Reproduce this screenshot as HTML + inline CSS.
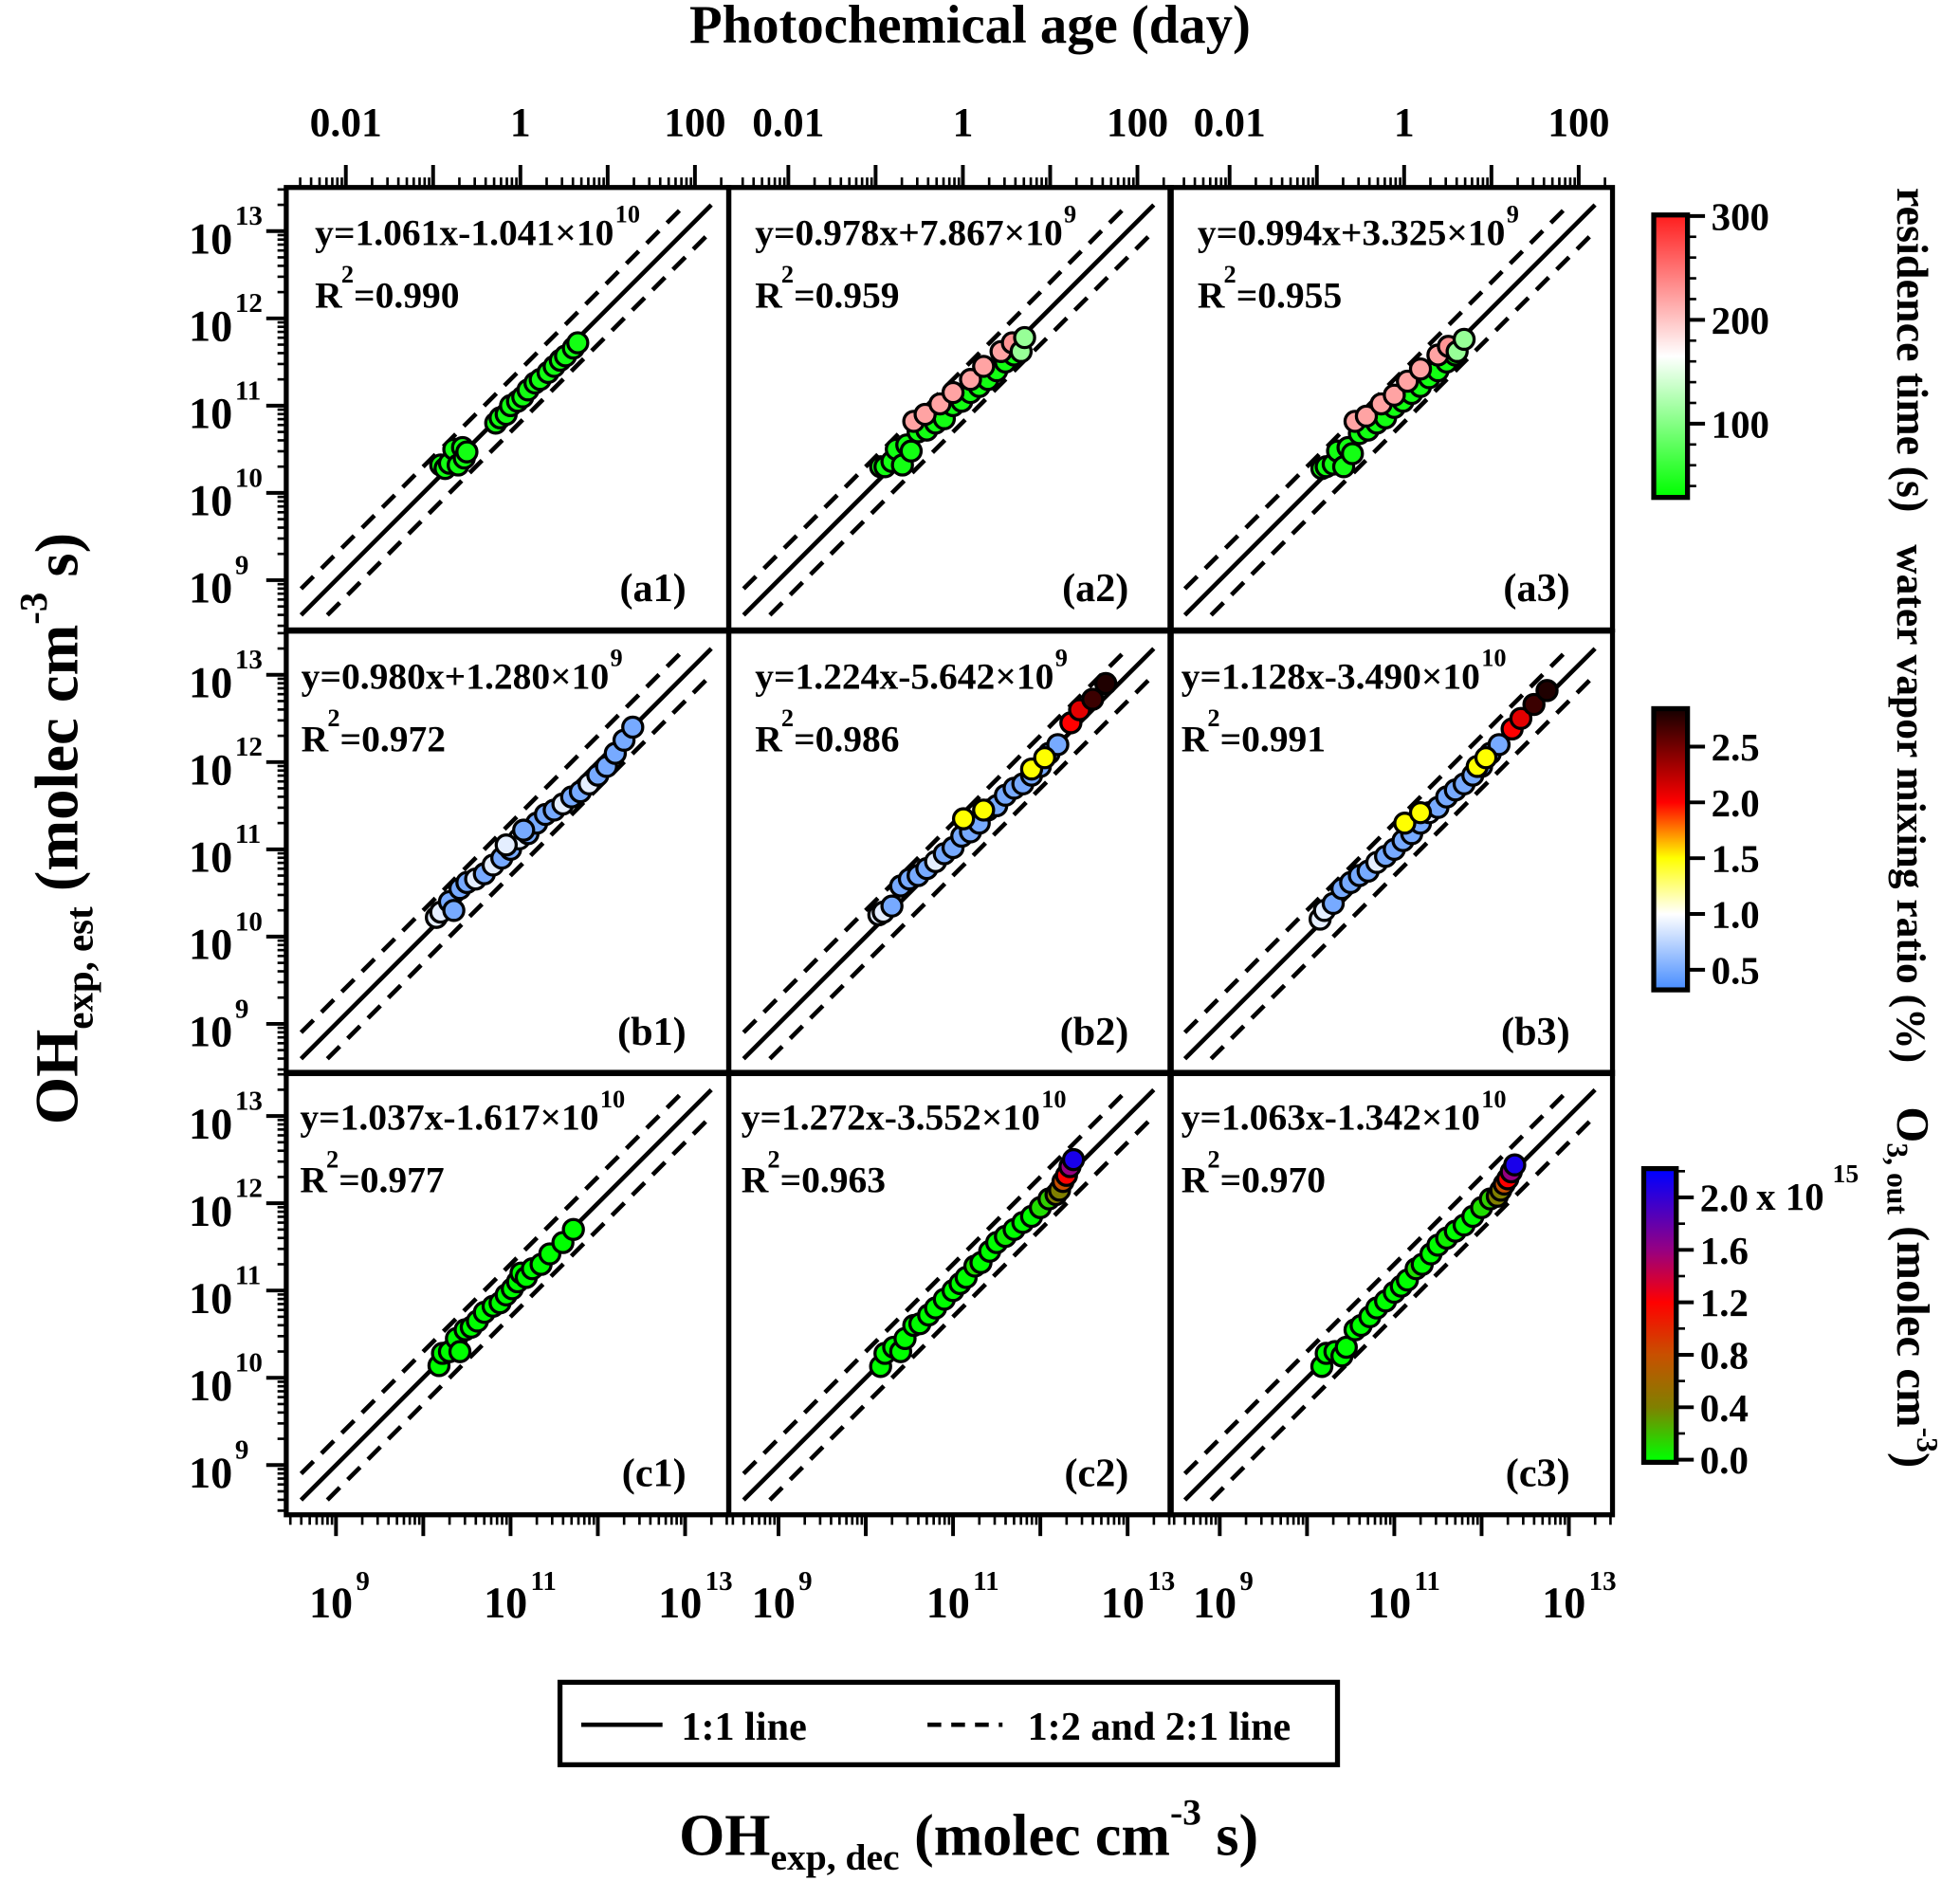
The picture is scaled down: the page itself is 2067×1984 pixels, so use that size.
<!DOCTYPE html>
<html><head><meta charset="utf-8"><style>
html,body{margin:0;padding:0;background:#fff}
svg{display:block}
text{font-family:"Liberation Serif",serif;font-weight:bold;fill:#000}
</style></head><body>
<svg id="fig" xmlns="http://www.w3.org/2000/svg" width="2067" height="1984" viewBox="0 0 1568 1505" preserveAspectRatio="none"></svg>
<script>
// ---- data (log10 of OH exposure, molec cm-3 s) ----
const a1x=[10.2,10.25,10.3,10.35,10.4,10.45,10.47,10.5,10.83,10.88,10.95,11.0,11.08,11.14,11.2,11.28,11.34,11.43,11.5,11.57,11.63,11.72,11.77];
const a1y=[10.32,10.28,10.34,10.5,10.32,10.52,10.4,10.47,10.8,10.86,10.9,11.0,11.05,11.1,11.18,11.26,11.3,11.38,11.45,11.52,11.57,11.66,11.72];
const a1c=[40,40,40,40,40,40,40,40,40,40,40,40,40,40,40,40,40,40,40,40,40,40,40];
const a2x=[10.17,10.22,10.3,10.35,10.42,10.47,10.52,10.6,10.7,10.8,10.9,11.0,11.1,11.2,11.3,11.4,11.5,11.6,11.7,10.55,10.68,10.85,11.0,11.2,11.35,11.55,11.68,11.78,11.82];
const a2y=[10.3,10.3,10.36,10.5,10.32,10.55,10.48,10.7,10.72,10.8,10.85,11.0,11.05,11.15,11.22,11.3,11.4,11.5,11.58,10.82,10.9,11.02,11.15,11.3,11.45,11.62,11.72,11.62,11.78];
const a2c=[40,40,40,40,40,40,40,40,40,40,40,40,40,40,40,40,40,40,40,220,220,220,220,220,220,220,230,110,110];
const a3x=[10.17,10.22,10.3,10.35,10.42,10.47,10.52,10.6,10.7,10.8,10.9,11.0,11.1,11.2,11.3,11.4,11.5,11.6,11.7,10.55,10.68,10.85,11.0,11.15,11.3,11.5,11.62,11.72,11.8];
const a3y=[10.28,10.3,10.33,10.48,10.3,10.52,10.45,10.68,10.72,10.8,10.86,10.98,11.05,11.14,11.22,11.32,11.4,11.5,11.58,10.82,10.88,11.02,11.12,11.28,11.42,11.58,11.68,11.62,11.76];
const a3c=[40,40,40,40,40,40,40,40,40,40,40,40,40,40,40,40,40,40,40,220,220,220,220,220,220,220,230,110,110];
const b1x=[10.15,10.2,10.3,10.35,10.42,10.5,10.6,10.7,10.8,10.9,11.0,11.1,11.2,11.3,11.4,11.5,11.6,11.7,11.8,11.9,12.0,12.1,12.2,12.3,12.4,10.95,11.15];
const b1y=[10.22,10.28,10.4,10.3,10.55,10.62,10.66,10.72,10.82,10.9,11.0,11.12,11.18,11.3,11.4,11.45,11.52,11.6,11.66,11.75,11.85,11.95,12.1,12.25,12.4,11.05,11.22];
const b1c=[0.9,0.9,0.5,0.5,0.5,0.5,0.9,0.5,0.9,0.5,0.5,0.9,0.5,0.5,0.5,0.5,0.9,0.5,0.5,0.9,0.5,0.5,0.5,0.5,0.5,0.9,0.5];
const b2x=[10.15,10.2,10.3,10.4,10.5,10.6,10.7,10.8,10.9,11.0,11.1,11.2,11.3,11.4,11.5,11.6,11.7,11.8,11.9,12.0,12.1,12.2,11.12,11.35,11.9,12.05,12.35,12.45,12.6,12.75];
const b2y=[10.25,10.28,10.35,10.58,10.66,10.7,10.78,10.86,10.95,11.02,11.15,11.2,11.3,11.45,11.5,11.62,11.7,11.75,11.85,11.95,12.1,12.2,11.35,11.45,11.92,12.05,12.45,12.6,12.72,12.9];
const b2c=[0.9,0.9,0.5,0.5,0.5,0.5,0.5,0.9,0.5,0.5,0.5,0.5,0.5,0.9,0.5,0.5,0.5,0.5,0.5,0.5,0.5,0.5,1.5,1.5,1.5,1.5,2.0,2.1,2.7,2.8];
const b3x=[10.15,10.2,10.3,10.4,10.5,10.6,10.7,10.8,10.9,11.0,11.1,11.2,11.3,11.4,11.5,11.6,11.7,11.8,11.9,12.0,12.1,12.2,11.12,11.3,11.95,12.05,12.35,12.45,12.6,12.75];
const b3y=[10.2,10.3,10.38,10.55,10.62,10.7,10.75,10.85,10.92,11.0,11.1,11.18,11.3,11.42,11.48,11.6,11.68,11.75,11.85,11.95,12.1,12.2,11.3,11.42,11.95,12.05,12.38,12.5,12.66,12.82];
const b3c=[0.9,0.9,0.5,0.5,0.5,0.5,0.5,0.9,0.5,0.5,0.5,0.5,0.5,0.9,0.5,0.5,0.5,0.5,0.5,0.5,0.5,0.5,1.5,1.5,1.5,1.5,2.0,2.1,2.7,2.8];
const c1x=[10.18,10.22,10.3,10.38,10.42,10.48,10.55,10.62,10.7,10.8,10.88,10.95,11.02,11.08,11.12,11.18,11.25,11.35,11.45,11.6,11.72];
const c1y=[10.14,10.28,10.3,10.45,10.3,10.55,10.58,10.65,10.75,10.82,10.86,10.95,11.02,11.1,11.2,11.15,11.25,11.3,11.42,11.55,11.7];
const c1c=[0,0,0,0,0,0,0,0,0,0,0,0,0,0,0,0,0,0,0,0,0];
const c2x=[10.17,10.22,10.32,10.4,10.45,10.55,10.62,10.72,10.8,10.9,11.0,11.08,11.15,11.25,11.32,11.42,11.5,11.6,11.7,11.8,11.9,12.0,12.1,12.18,12.22,12.26,12.3,12.34,12.38];
const c2y=[10.13,10.28,10.35,10.3,10.45,10.6,10.62,10.72,10.8,10.9,11.0,11.08,11.15,11.28,11.32,11.45,11.55,11.62,11.7,11.78,11.85,11.95,12.05,12.1,12.15,12.25,12.32,12.42,12.5];
const c2c=[0,0,0,0,0,0,0,0,0,0,0,0,0,0.1,0,0,0,0.05,0,0,0,0.1,0.15,0.4,0.4,0.8,1.2,1.6,2.1];
const c3x=[10.17,10.22,10.32,10.4,10.45,10.55,10.62,10.72,10.8,10.9,11.0,11.08,11.15,11.25,11.32,11.42,11.5,11.6,11.7,11.8,11.9,12.0,12.1,12.18,12.22,12.26,12.3,12.34,12.38];
const c3y=[10.13,10.28,10.3,10.25,10.35,10.55,10.6,10.7,10.8,10.88,10.98,11.05,11.12,11.25,11.3,11.42,11.52,11.6,11.68,11.75,11.85,11.95,12.05,12.08,12.15,12.22,12.28,12.36,12.44];
const c3c=[0,0,0,0,0,0,0,0,0,0,0,0,0,0.1,0,0,0,0.05,0,0,0,0.1,0.15,0.4,0.4,0.8,1.2,1.6,2.1];
const eqs=["y=1.061x-1.041×10","y=0.978x+7.867×10","y=0.994x+3.325×10","y=0.980x+1.280×10","y=1.224x-5.642×10","y=1.128x-3.490×10","y=1.037x-1.617×10","y=1.272x-3.552×10","y=1.063x-1.342×10"];
const eqExp=["10","9","9","9","9","10","10","10","10"];
const r2s=["0.990","0.959","0.955","0.972","0.986","0.991","0.977","0.963","0.970"];
const labels=["(a1)","(a2)","(a3)","(b1)","(b2)","(b3)","(c1)","(c2)","(c3)"];
const bottomTicks=[9,11,13];
const topTicks=["0.01","1","100"];
const resTicks=[100,200,300];
const h2oTicks=[0.5,1.0,1.5,2.0,2.5];
const o3Ticks=[0.0,0.4,0.8,1.2,1.6,2.0];

const NS="http://www.w3.org/2000/svg";
const svg=document.getElementById('fig');
function el(tag,attrs,parent){const e=document.createElementNS(NS,tag);for(const k in attrs)e.setAttribute(k,attrs[k]);(parent||svg).appendChild(e);return e;}
function txt(s,x,y,size,anchor,parent){const t=el('text',{x:x,y:y,'font-size':size,'text-anchor':anchor||'start'},parent);t.textContent=s;return t;}

function lerp(a,b,t){return a.map((v,i)=>Math.round(v+(b[i]-v)*t));}
function cmap(stops,v){if(v<=stops[0][0])return stops[0][1];for(let i=1;i<stops.length;i++){if(v<=stops[i][0]){const t=(v-stops[i-1][0])/(stops[i][0]-stops[i-1][0]);return lerp(stops[i-1][1],stops[i][1],t);}}return stops[stops.length-1][1];}
const resStops=[[30,[0,255,0]],[165,[255,255,255]],[300,[255,30,30]]];
const h2oStops=[[0.32,[70,140,255]],[1.0,[255,255,255]],[1.5,[255,255,0]],[2.0,[255,0,0]],[2.84,[20,0,0]]];
const o3Stops=[[0.0,[0,255,0]],[0.4,[128,128,0]],[0.8,[200,80,0]],[1.2,[255,0,0]],[1.6,[150,0,130]],[2.2,[0,0,255]]];
const rgb=c=>`rgb(${c[0]},${c[1]},${c[2]})`;

const colL=[229,583,936], rowT=[150,505,858], PW=354, PH=354;
const LMIN=8.43, LMAX=13.5, PPD=PW/(LMAX-LMIN);
function sx(c,v){return colL[c]+(v-LMIN)*PPD;}
function sy(r,v){return rowT[r]+(LMAX-v)*PPD;}

const panels=[[a1x,a1y,a1c,resStops],[a2x,a2y,a2c,resStops],[a3x,a3y,a3c,resStops],
[b1x,b1y,b1c,h2oStops],[b2x,b2y,b2c,h2oStops],[b3x,b3y,b3c,h2oStops],
[c1x,c1y,c1c,o3Stops],[c2x,c2y,c2c,o3Stops],[c3x,c3y,c3c,o3Stops]];

for(let p=0;p<9;p++){
  const r=Math.floor(p/3), c=p%3;
  const g=el('g',{});
  
  
  const lo=8.6, hi=13.3, l2=Math.log10(2);
  const solid=el('line',{x1:sx(c,lo),y1:sy(r,lo),x2:sx(c,hi),y2:sy(r,hi),stroke:'#000','stroke-width':3.5},g);
  
  
  const up=el('line',{x1:sx(c,lo),y1:sy(r,lo+l2),x2:sx(c,hi-l2),y2:sy(r,hi),stroke:'#000','stroke-width':3.5,'stroke-dasharray':'14,9'},g);
  
  
  const dn=el('line',{x1:sx(c,lo+l2),y1:sy(r,lo),x2:sx(c,hi),y2:sy(r,hi-l2),stroke:'#000','stroke-width':3.5,'stroke-dasharray':'14,9'},g);
  
  
  const [xs,ys,cs,st]=panels[p];
  for(let i=0;i<xs.length;i++){
    const pt=el('circle',{cx:sx(c,xs[i]),cy:sy(r,ys[i]),r:8,fill:rgb(cmap(st,cs[i])),stroke:'#000','stroke-width':2.5},g);
    
    
  }
  const ex=[252,604,958,241,604,945,240,593,945][p];
  const e=txt(eqs[p],ex,rowT[r]+46,30,'start',g);
  
  
  const bb=e.getComputedTextLength();
  const es=txt(eqExp[p],ex+bb+1,rowT[r]+28,20,'start',g);
  
  
  const rr=txt('R',ex,rowT[r]+96,30,'start',g);
  
  
  txt('2',ex+21,rowT[r]+76,20,'start',g);
  txt('='+r2s[p],ex+31,rowT[r]+96,30,'start',g);
  const lb=txt(labels[p],colL[c]+PW-34,rowT[r]+331,32,'end',g);
  
  
  const fr=el('rect',{x:colL[c],y:rowT[r],width:PW,height:PH,fill:'none',stroke:'#000','stroke-width':4},g);
  
  
}

const tg=el('g',{});


function tickRange(fn){for(let d=8;d<=13;d++){for(let m=1;m<10;m++){const v=d+Math.log10(m);if(v<LMIN||v>LMAX)continue;fn(v,m===1);}}}
for(let r=0;r<3;r++){
  tickRange((v,maj)=>{el('line',{x1:colL[0],x2:colL[0]-(maj?16:7),y1:sy(r,v),y2:sy(r,v),stroke:'#000','stroke-width':maj?3:2},tg);});
  for(let d=9;d<=13;d++){
    const y=sy(r,d);
    const t=txt('10',186,y+18,35,'end');
    
    
    txt(String(d),188,y-5,22,'start');
  }
}
const DAY=Math.log10(1.5e6*86400);
for(let c=0;c<3;c++){
  const by=rowT[2]+PH;
  tickRange((v,maj)=>{el('line',{x1:sx(c,v),x2:sx(c,v),y1:by,y2:by+(maj?17:8),stroke:'#000','stroke-width':maj?3:2},tg);});
  bottomTicks.forEach(d=>{
    const x=sx(c,d);
    const t=txt('10',x-4,1294,35,'middle');
    
    
    txt(String(d),x+16,1272,22,'start');
  });
  const ty=rowT[0];
  for(let d=-3;d<=3;d++){for(let m=1;m<10;m++){const v=d+Math.log10(m)+DAY;if(v<LMIN||v>LMAX)continue;const maj=m===1;
    el('line',{x1:sx(c,v),x2:sx(c,v),y1:ty,y2:ty-(maj?18:8),stroke:'#000','stroke-width':maj?3:2},tg);}}
  topTicks.forEach(s=>{
    const v=Math.log10(parseFloat(s))+DAY;
    const t=txt(s,sx(c,v),109,33,'middle');
    
    
  });
}

const tt=txt('Photochemical age (day)',776,34,43,'middle');


const bt=el('text',{x:775,y:1484,'font-size':47,'text-anchor':'middle'});


bt.innerHTML='OH<tspan font-size="30" dy="12">exp, dec</tspan><tspan dy="-12"> (molec cm</tspan><tspan font-size="30" dy="-24">-3</tspan><tspan dy="24"> s)</tspan>';
const lt=el('text',{x:0,y:0,'font-size':49,'text-anchor':'middle',transform:'translate(62,663) rotate(-90)'});


lt.innerHTML='OH<tspan font-size="31" dy="12">exp, est</tspan><tspan dy="-12"> (molec cm</tspan><tspan font-size="31" dy="-25">-3</tspan><tspan dy="25"> s)</tspan>';

function colorbar(name,x,y,w,h,vmin,vmax,stops,ticks,fmt,minorStep){
  const g=el('g',{});
  
  
  const id='grad'+name;
  const lg=el('linearGradient',{id:id,x1:0,y1:1,x2:0,y2:0},el('defs',{},g));
  stops.forEach(s=>{el('stop',{offset:Math.max(0,Math.min(1,(s[0]-vmin)/(vmax-vmin))),'stop-color':rgb(s[1])},lg);});
  el('rect',{x:x,y:y,width:w,height:h,fill:`url(#${id})`,stroke:'#000','stroke-width':4},g);
  const vy=v=>y+h-(v-vmin)/(vmax-vmin)*h;
  if(minorStep){for(let v=Math.ceil(vmin/minorStep)*minorStep;v<=vmax;v+=minorStep){el('line',{x1:x+w,x2:x+w+7,y1:vy(v),y2:vy(v),stroke:'#000','stroke-width':2},g);}}
  ticks.forEach(v=>{el('line',{x1:x+w,x2:x+w+14,y1:vy(v),y2:vy(v),stroke:'#000','stroke-width':3},g);
    const t=txt(fmt(v),x+w+19,vy(v)+11,31,'start',g);
    
    });
  return g;
}
colorbar('residence-time-colorbar',1323,172,27,226,29,301,resStops,resTicks,v=>String(v),20);
colorbar('water-vapor-colorbar',1323,567,27,225,0.32,2.84,h2oStops,h2oTicks,v=>v.toFixed(1),0);
colorbar('ozone-colorbar',1315,935,26,235,-0.02,2.22,o3Stops,o3Ticks,v=>v.toFixed(1),0.2);
txt('x 10',1405,968,31,'start');
txt('15',1466,946,21,'start');

function vtitle(name,html,x,yc,fs){
  const t=el('text',{x:0,y:0,'font-size':fs,'text-anchor':'middle',transform:`translate(${x},${yc}) rotate(90)`});
  
  
  t.innerHTML=html;
}
vtitle('residence-time-title','residence time (s)',1518,280,35);
vtitle('water-vapor-title','water vapor mixing ratio (%)',1518,643,33);
vtitle('ozone-title','O<tspan font-size="24" dy="8">3, out</tspan><tspan dy="-8"> (molec cm</tspan><tspan font-size="24" dy="-16">-3</tspan><tspan dy="16">)</tspan>',1518,1030,37);

const lgd=el('g',{});


el('rect',{x:448,y:1346,width:622,height:66,fill:'#fff',stroke:'#000','stroke-width':4},lgd);
const ls=el('line',{x1:465,x2:530,y1:1380,y2:1380,stroke:'#000','stroke-width':3.5},lgd);


const l1=txt('1:1 line',545,1392,32,'start',lgd);


const ld=el('line',{x1:742,x2:802,y1:1380,y2:1380,stroke:'#000','stroke-width':3.5,'stroke-dasharray':'11,8'},lgd);


const l2e=txt('1:2 and 2:1 line',822,1392,32,'start',lgd);


</script>
</body></html>
